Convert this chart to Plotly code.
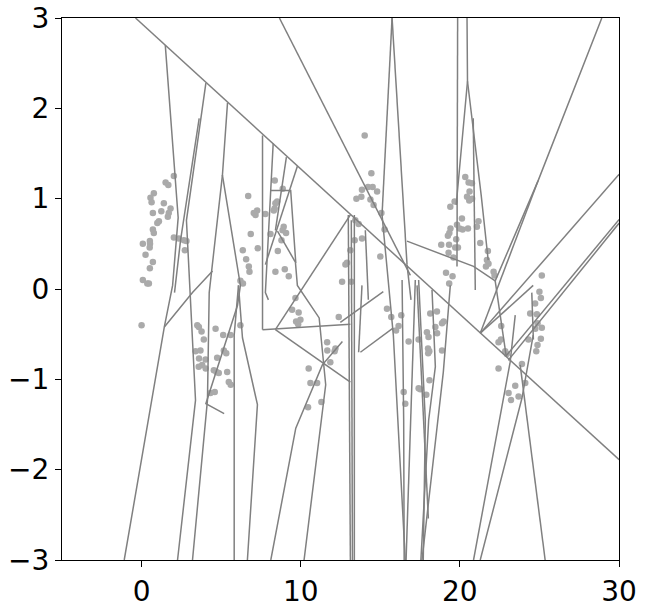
import plotly.graph_objects as go

# Scatter points
x_vals = [
    2.03, 1.51, 1.68, 0.77, 0.56, 0.63, 1.40, 1.82, 0.71, 1.24, 1.71, 1.65, 1.09, 0.99, 0.71, 0.77,
    2.03, 2.34, 2.66, 2.82, 0.52, 0.53, 0.51, 0.08, 2.72, 0.25, 0.71, 0.52, 0.08, 0.36, 0.46, 0.00,
    3.50, 3.60, 3.77, 4.65, 5.13, 5.59, 3.91, 6.21, 3.39, 3.70, 5.17, 5.32, 3.61, 4.02, 4.75, 3.81,
    3.59, 4.54, 4.71, 4.85, 4.03, 5.38, 5.48, 5.60, 4.33, 4.60,
    8.37, 8.87, 6.70, 8.52, 8.41, 8.36, 8.31, 7.26, 7.05, 7.16, 7.78, 8.93, 8.86, 9.08, 6.86, 8.10,
    8.79, 7.30, 6.36, 8.56, 6.57, 6.74, 6.78, 9.00, 9.25, 8.41, 6.21, 6.37,
    9.67, 9.46, 9.87, 9.98, 9.71, 9.84, 12.39, 11.66, 12.18, 12.13, 11.67, 11.86, 10.50, 10.61, 11.03,
    11.30, 10.46,
    14.02, 14.44, 13.85, 14.23, 14.52, 14.80, 13.50, 13.81, 14.38, 14.58, 13.43, 13.64, 15.07, 15.27,
    13.39, 13.85, 13.12, 12.91, 12.81, 12.60, 13.18, 15.00,
    15.42, 15.69, 16.32, 16.15, 15.99, 16.78, 17.41, 17.93, 18.03, 18.14, 18.56, 18.98, 18.88, 18.46,
    18.57, 18.00, 18.08, 18.01, 18.88, 18.09, 17.41, 17.51, 17.89, 16.47, 16.57, 19.33,
    20.34, 20.55, 20.76, 20.61, 20.45, 20.77, 20.59, 19.67, 19.40, 20.13, 19.82, 19.98, 20.17, 20.51,
    19.41, 19.34, 19.25, 21.17, 21.07, 19.77, 21.28, 18.83, 19.32, 19.71, 19.88, 19.29, 19.60, 21.76,
    21.70, 21.80, 21.64, 22.12, 22.18, 19.13, 19.54,
    25.15, 25.00, 25.09, 24.73, 24.42, 24.84, 25.15, 24.88, 24.74, 22.60, 22.58, 22.43, 25.09, 24.31,
    24.88, 24.80, 22.85, 22.96, 22.43, 23.90, 24.11, 23.48, 23.69, 23.06, 23.21,
]
y_vals = [
    1.25, 1.18, 1.15, 1.06, 1.01, 0.96, 0.95, 0.89, 0.84, 0.86, 0.84, 0.80, 0.75, 0.73, 0.66, 0.62,
    0.57, 0.56, 0.54, 0.53, 0.53, 0.50, 0.46, 0.50, 0.43, 0.38, 0.30, 0.23, 0.10, 0.06, 0.06, -0.40,
    -0.40, -0.42, -0.47, -0.44, -0.51, -0.51, -0.56, -0.40, -0.69, -0.68, -0.68, -0.71, -0.77, -0.78,
    -0.76, -0.84, -0.86, -0.90, -0.92, -0.93, -0.88, -0.92, -1.03, -1.06, -1.15, -1.14,
    1.20, 1.11, 1.03, 0.97, 0.95, 0.89, 0.87, 0.87, 0.84, 0.82, 0.83, 0.69, 0.65, 0.62, 0.61, 0.61,
    0.54, 0.45, 0.43, 0.42, 0.33, 0.25, 0.19, 0.22, 0.14, 0.19, 0.09, 0.06,
    -0.10, -0.23, -0.26, -0.34, -0.36, -0.39, -0.31, -0.59, -0.66, -0.69, -0.68, -0.81, -0.88, -1.04,
    -1.04, -1.25, -1.31,
    1.70, 1.28, 1.10, 1.13, 1.13, 1.08, 1.00, 1.02, 0.99, 0.93, 0.76, 0.72, 0.84, 0.66,
    0.54, 0.56, 0.43, 0.29, 0.27, 0.08, 0.08, 0.36,
    -0.22, -0.31, -0.29, -0.41, -0.46, -0.58, -0.56, -0.48, -0.53, -0.27, -0.25, -0.36, -0.38, -0.42,
    -0.49, -0.66, -0.69, -0.71, -0.68, -1.01, -1.10, -1.11, -1.17, -1.14, -1.27, 0.06,
    1.24, 1.18, 1.17, 1.08, 1.02, 1.00, 0.98, 0.97, 0.91, 0.78, 0.71, 0.67, 0.66, 0.67,
    0.67, 0.62, 0.59, 0.75, 0.69, 0.55, 0.51, 0.49, 0.49, 0.46, 0.46, 0.40, 0.35, 0.42,
    0.32, 0.28, 0.25, 0.19, 0.15, 0.18, 0.14,
    0.15, -0.03, -0.10, -0.16, -0.27, -0.28, -0.43, -0.38, -0.44, -0.41, -0.56, -0.59, -0.55, -0.56,
    -0.62, -0.69, -0.69, -0.72, -0.88, -0.83, -1.04, -1.07, -1.19, -1.15, -1.23,
]

# Boundary polylines (data units)
edge_x = [
    [-0.38, 30.01], [8.66, 16.89], [28.92, 24.92, 22.22], [24.92, 21.28], [30.01, 21.28],
    [30.01, 22.91], [30.01, 23.04], [15.74, 15.11], [15.74, 16.68], [19.86, 19.82],
    [20.45, 20.48, 19.77], [20.48, 21.34, 21.78], [1.49, 2.30, 1.95, 1.43, -1.09],
    [4.04, 2.82, 3.39, 2.26], [3.62, 2.45, 2.07], [5.40, 5.08, 4.25, 4.14, 3.20],
    [5.08, 6.21, 6.03, 4.04, 5.19], [5.82, 5.82, 6.09], [6.65, 7.28, 6.34, 6.09],
    [4.46, 3.20, 1.43], [7.60, 7.60], [8.27, 7.78, 7.97], [7.60, 13.12], [8.41, 13.12],
    [8.41, 13.12], [8.12, 9.69, 11.36, 12.62], [10.21, 11.57, 11.16, 9.79, 9.67],
    [8.12, 9.37, 9.69], [8.54, 9.69], [9.79, 7.78], [9.10, 8.41],
    [12.99, 13.12], [13.18, 13.25], [13.37, 13.37], [13.85, 13.64], [12.49, 15.19],
    [13.75, 15.82], [15.11, 15.51, 15.82, 16.57], [19.40, 18.96, 17.62], [17.31, 18.02],
    [16.68, 20.86, 22.22], [20.86, 23.16, 23.48], [21.28, 23.90, 24.61], [25.36, 23.79],
    [21.28, 24.61], [22.22, 22.91], [20.84, 20.97],
    [14.06, 14.25], [16.37, 16.47, 16.50], [17.20, 16.89, 16.62], [17.41, 17.83, 17.70],
    [18.25, 18.46, 18.04, 17.55], [16.68, 16.93], [24.52, 24.62],
]
edge_y = [
    [3.00, -1.89], [3.00, 0.15], [3.00, 1.20, 0.09], [1.20, -0.49], [1.27, -0.49],
    [0.77, -0.74], [0.73, -0.79], [3.00, 0.82], [3.00, 0.27], [3.00, 0.25],
    [3.00, 2.30, 0.93], [2.30, 1.04, 0.32], [2.70, 0.79, 0.04, -0.42, -3.00],
    [2.28, 0.76, -1.23, -3.00], [1.89, 0.54, -0.04], [2.06, 1.26, -0.04, -1.23, -3.00],
    [1.26, 0.04, -0.18, -1.27, -1.38], [-3.00, -0.51, 0.04], [-3.00, -1.28, -0.54, 0.04],
    [0.20, -0.04, -0.42], [1.70, -0.45], [1.61, -0.04, -0.12], [-0.45, -0.39], [-0.45, 0.82],
    [-0.45, -1.03], [-3.00, -1.54, -0.84, -0.58], [-3.00, -1.06, -0.32, 0.04, 0.29],
    [1.09, 1.09, 0.29], [0.64, 0.29], [1.36, 0.27], [1.46, 0.65],
    [0.82, -3.00], [0.76, -3.00], [0.82, -3.00], [0.04, -0.70], [-0.37, -0.03],
    [-0.70, -0.43], [0.82, 0.04, -0.51, -3.00], [0.04, -0.92, -3.00], [0.04, -2.54],
    [0.53, 0.25, 0.09], [-3.00, -0.81, -0.29], [-3.00, -1.21, -0.51], [-3.00, -0.84],
    [-0.49, 0.04], [0.09, -0.74], [1.89, -0.01],
    [0.65, -0.12], [0.10, -1.45, -3.00], [0.10, -1.45, -3.00], [0.10, -1.45, -3.00],
    [-0.01, -0.86, -1.45, -3.00], [0.27, -0.12], [-0.04, -0.56],
]

x_ticks = [0, 10, 20, 30]
y_ticks = [-3, -2, -1, 0, 1, 2, 3]

lx, ly = [], []
for xs, ys in zip(edge_x, edge_y):
    lx += xs + [None]
    ly += ys + [None]

fig = go.Figure()
fig.add_trace(go.Scatter(x=x_vals, y=y_vals, mode="markers",
                         marker=dict(color="#aaaaaa", size=6.5, line=dict(width=0)),
                         showlegend=False, hoverinfo="skip"))
fig.add_trace(go.Scatter(x=lx, y=ly, mode="lines",
                         line=dict(color="#808080", width=1.5),
                         showlegend=False, hoverinfo="skip"))

axis_common = dict(showline=True, mirror=True, linecolor="black", linewidth=1.2,
                   ticks="outside", ticklen=6, tickwidth=1.2, tickcolor="black",
                   showgrid=False, zeroline=False, automargin=False,
                   ticklabeloverflow="allow",
                   tickfont=dict(family="DejaVu Sans", size=28, color="black"))
fig.update_xaxes(range=[-5, 30], tickvals=x_ticks, **axis_common)
fig.update_yaxes(range=[-3, 3], tickvals=y_ticks, **axis_common)
fig.update_layout(width=645, height=607, plot_bgcolor="white", paper_bgcolor="white",
                  margin=dict(l=62, r=26, t=18, b=47, autoexpand=False))
fig.write_html("out.html", config={"displayModeBar": False},
               post_script="document.body.style.margin='0';document.body.style.overflow='hidden';")
